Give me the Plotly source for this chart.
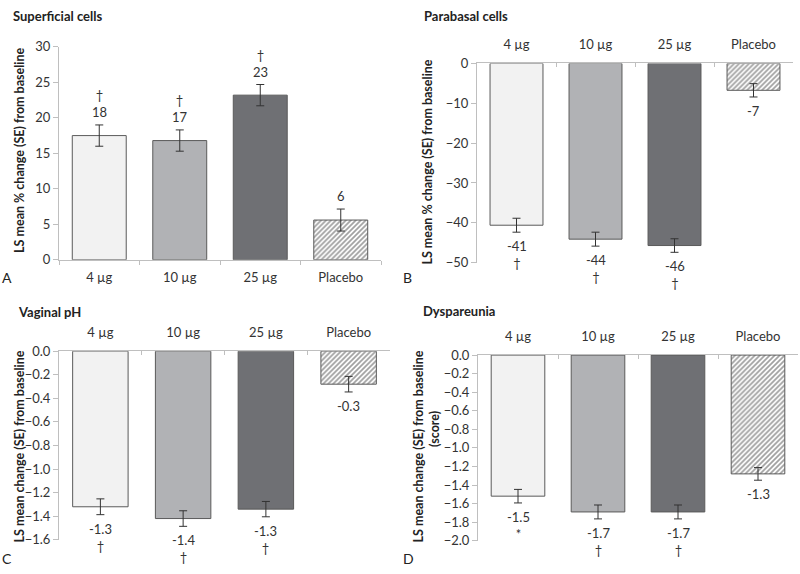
import plotly.graph_objects as go

categories = ["4 µg", "10 µg", "25 µg", "Placebo"]

superficial = [17.5, 16.8, 23.2, 5.6]
superficial_se = [1.5, 1.5, 1.5, 1.55]
superficial_labels = ["18", "17", "23", "6"]
superficial_sig = ["†", "†", "†", ""]

parabasal = [-40.6, -44.1, -45.7, -6.75]
parabasal_se = [1.75, 1.75, 1.7, 1.67]
parabasal_labels = ["-41", "-44", "-46", "-7"]
parabasal_sig = ["†", "†", "†", ""]

ph = [-1.32, -1.42, -1.34, -0.28]
ph_se = [0.067, 0.066, 0.065, 0.066]
ph_labels = ["-1.3", "-1.4", "-1.3", "-0.3"]
ph_sig = ["†", "†", "†", ""]

dysp = [-1.52, -1.69, -1.69, -1.28]
dysp_se = [0.073, 0.075, 0.075, 0.068]
dysp_labels = ["-1.5", "-1.7", "-1.7", "-1.3"]
dysp_sig = ["*", "†", "†", ""]

fills = ["#f2f2f2", "#b1b2b5", "#6f7074", "#ffffff"]
patterns = ["", "", "", "/"]

FONT = "Lato, Open Sans, sans-serif"
TXT = "#333333"
AX = "#bfbfbf"
FS = 13

fig = go.Figure()

panels = [
    dict(v=superficial, se=superficial_se, lab=superficial_labels, sig=superficial_sig,
         xa="x", ya="y", xd=[0.07375, 0.47625], yd=[0.5488, 0.9303], rng=[0, 30], dt=5,
         fmt="", top=False),
    dict(v=parabasal, se=parabasal_se, lab=parabasal_labels, sig=parabasal_sig,
         xa="x2", ya="y2", xd=[0.59625, 0.99125], yd=[0.5436, 0.9007], rng=[-50, 0], dt=10,
         fmt="", top=True),
    dict(v=ph, se=ph_se, lab=ph_labels, sig=ph_sig,
         xa="x3", ya="y3", xd=[0.07375, 0.4875], yd=[0.047, 0.385], rng=[-1.6, 0], dt=0.2,
         fmt=".1f", top=True),
    dict(v=dysp, se=dysp_se, lab=dysp_labels, sig=dysp_sig,
         xa="x4", ya="y4", xd=[0.5975, 0.9975], yd=[0.0453, 0.378], rng=[-2.0, 0], dt=0.2,
         fmt=".1f", top=True),
]

annotations = []
for i, p in enumerate(panels):
    fig.add_trace(go.Bar(
        x=categories, y=p["v"], xaxis=p["xa"], yaxis=p["ya"],
        marker=dict(color=fills, line=dict(color="#5a5a5a", width=1),
                    pattern=dict(shape=patterns, fgcolor="#444444", bgcolor="#ffffff",
                                 size=3.5, solidity=0.5)),
        error_y=dict(type="data", array=p["se"], color="#333333", thickness=1, width=4),
        showlegend=False, hoverinfo="skip",
    ))
    sfx = "" if i == 0 else str(i + 1)
    fig.layout["xaxis" + sfx] = dict(
        domain=p["xd"], anchor=p["ya"], type="category", side="top" if p["top"] else "bottom",
        showline=True, linecolor=AX, linewidth=1, ticks="inside" if p["top"] else "outside",
        tickson="boundaries", ticklen=4, tickcolor=AX,
        ticklabelstandoff=8 if p["top"] else 6,
        tickfont=dict(family=FONT, size=FS, color=TXT), showgrid=False, fixedrange=True,
    )
    fig.layout["yaxis" + sfx] = dict(
        domain=p["yd"], anchor=p["xa"], range=p["rng"], dtick=p["dt"], tickformat=p["fmt"],
        showline=True, linecolor=AX, linewidth=1, ticks="outside", ticklen=5, tickcolor=AX,
        tickfont=dict(family=FONT, size=FS, color=TXT), showgrid=False, zeroline=False,
        fixedrange=True,
    )
    for c, v, e, lab, sg in zip(categories, p["v"], p["se"], p["lab"], p["sig"]):
        if v >= 0:
            txt = (sg + "<br>" + lab) if sg else lab
            annotations.append(dict(x=c, y=v + e, xref=p["xa"], yref=p["ya"], text=txt,
                                    showarrow=False, yanchor="bottom", yshift=3,
                                    font=dict(family=FONT, size=FS, color=TXT)))
        else:
            txt = (lab + "<br>" + sg) if sg else lab
            annotations.append(dict(x=c, y=v - e, xref=p["xa"], yref=p["ya"], text=txt,
                                    showarrow=False, yanchor="top", yshift=-4,
                                    font=dict(family=FONT, size=FS, color=TXT)))

W, H = 800, 574


def px(x, y):
    return x / W, 1 - y / H


titles = [("Superficial cells", 11, 8), ("Parabasal cells", 422, 8),
          ("Vaginal pH", 16, 313), ("Dyspareunia", 421, 312)]
for t, x, y in titles:
    xx, yy = px(x, y)
    annotations.append(dict(x=xx, y=yy, xref="paper", yref="paper", text="<b>%s</b>" % t,
                            showarrow=False, xanchor="left", yanchor="middle",
                            font=dict(family=FONT, size=13, color="#222222")))

ytitles = [("LS mean % change (SE) from baseline", 20, 147),
           ("LS mean % change (SE) from baseline", 428, 159),
           ("LS mean change (SE) from baseline", 19, 451),
           ("LS mean change (SE) from baseline", 418, 451),
           ("(score)", 435, 433)]
for t, x, y in ytitles:
    xx, yy = px(x, y)
    annotations.append(dict(x=xx, y=yy, xref="paper", yref="paper", text="<b>%s</b>" % t,
                            showarrow=False, xanchor="center", yanchor="middle", textangle=-90,
                            font=dict(family=FONT, size=12.5, color="#222222")))

letters = [("A", 0, 277), ("B", 401, 277), ("C", 0, 566), ("D", 401, 566)]
for t, x, y in letters:
    xx, yy = px(x, y)
    annotations.append(dict(x=xx, y=yy, xref="paper", yref="paper", text=t,
                            showarrow=False, xanchor="left", yanchor="middle",
                            font=dict(family=FONT, size=14, color="#222222")))

fig.update_layout(
    width=W, height=H, margin=dict(l=0, r=0, t=0, b=0),
    paper_bgcolor="white", plot_bgcolor="white",
    bargap=0.33, annotations=annotations, font=dict(family=FONT),
)

fig.write_html("out.html", config={"displayModeBar": False},
               post_script="document.body.style.margin='0';document.body.style.overflow='hidden';")
